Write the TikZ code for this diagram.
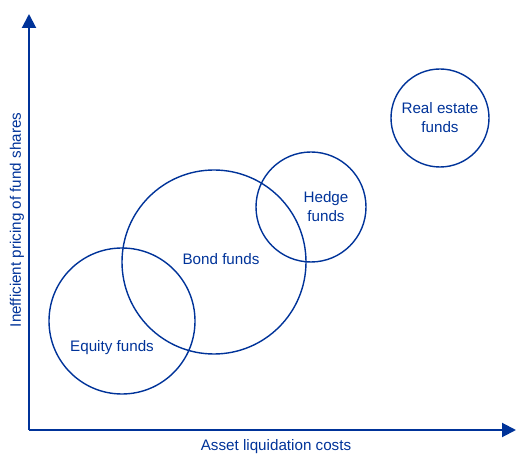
\documentclass[tikz,border=0pt]{standalone}
\usepackage{fontspec}
\setmainfont{Liberation Sans}
\usepackage{tikz}
\usetikzlibrary{arrows.meta}
\definecolor{fundblue}{RGB}{0,51,153}

\begin{document}
\begin{tikzpicture}[x=1pt,y=-1pt]
		\useasboundingbox (0,0) rectangle (517,454);

		\begin{scope}[every node/.style={circle,draw=fundblue,line width=1.4pt,inner sep=0pt}]
		    \node[minimum size=146pt] (equity) at (122,321) {};
		    \node[minimum size=184pt] (bond) at (214,262) {};
		    \node[minimum size=110pt] (hedge) at (311,207) {};
		    \node[minimum size=98pt] (realestate) at (440,118) {};
		\end{scope}

		\begin{scope}[every node/.style={text=fundblue,font=\fontsize{15.2}{19}\selectfont,align=center}]
		    \node (equitylbl) at (112,348) {Equity funds};
		    \node (bondlbl) at (221,259) {Bond funds};
		    \node (hedgelbl) at (326,207) {Hedge\\funds};
		    \node (realestatelbl) at (440,118) {Real estate\\funds};
		    \node[rotate=90] (ylbl) at (17,220) {Inefficient pricing of fund shares};
		    \node (xlbl) at (276,447) {Asset liquidation costs};
		\end{scope}

		\coordinate (origin) at (29,430);
		\coordinate (ytip) at (29,14);
		\coordinate (xtip) at (516,430);

		\begin{scope}[every path/.style={draw=fundblue,line width=2pt}]
		    \path [-{Triangle[length=14pt,width=14pt]}] (origin) -- (ytip);
		    \path [-{Triangle[length=14pt,width=14pt]}] (origin) -- (xtip);
		\end{scope}
\end{tikzpicture}
\end{document}
